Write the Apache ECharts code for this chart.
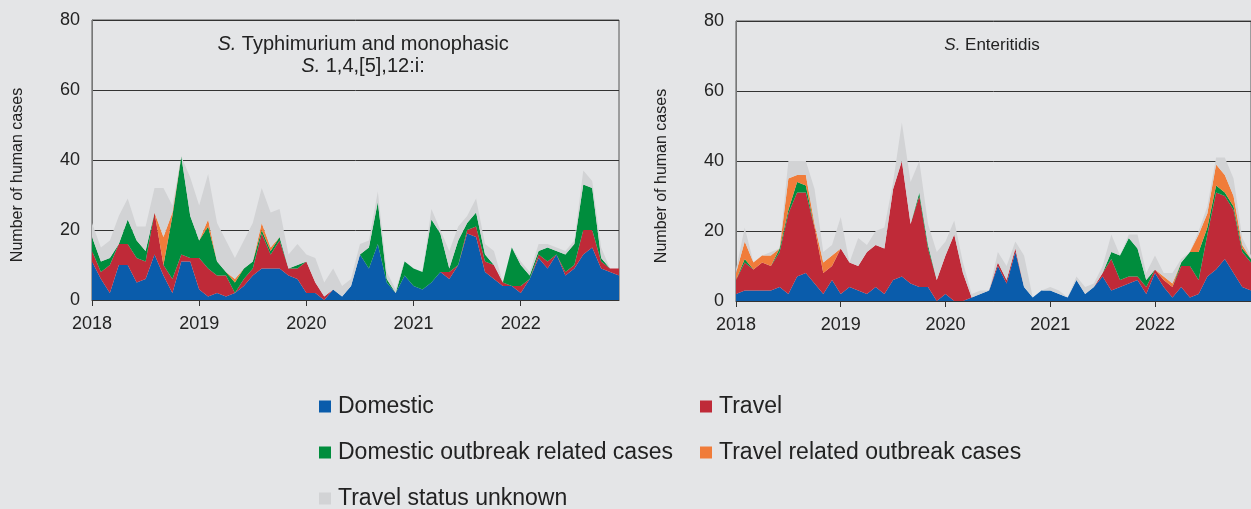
<!DOCTYPE html>
<html>
<head>
<meta charset="utf-8">
<title>Salmonella cases 2018-2022</title>
<script src="https://cdn.jsdelivr.net/npm/echarts@6/dist/echarts.min.js"></script>
<style>
  html, body { margin: 0; padding: 0; background: #e4e5e7; }
  #chart { width: 1251px; height: 509px; }
</style>
</head>
<body>
<div id="chart"></div>
<script>
// tick labels / categories
const years = ['2018', '2019', '2020', '2021', '2022']
const months = []
years.forEach(y => {
  for (let m = 1; m <= 12; m++) months.push(y + '-' + String(m).padStart(2, '0'))
})

// S. Typhimurium and monophasic S. 1,4,[5],12:i: (monthly cases)
const tyDomestic = [11, 6, 2, 10, 10, 5, 6, 13, 7, 2, 11, 11, 3, 1, 2, 1, 2, 4, 7, 9, 9, 9, 7, 6, 2, 2, 0, 3, 1, 4,
  13, 9, 16, 5, 2, 7, 4, 3, 5, 8, 6, 10, 19, 18, 8, 6, 4, 4, 2, 6, 12, 9, 13, 7, 9, 13, 15, 9, 8, 7]
const tyTravel = [3, 2, 8, 6, 6, 7, 5, 12, 3, 4, 2, 1, 9, 8, 5, 6, 0, 2, 2, 10, 4, 8, 2, 3, 9, 3, 1, 0, 0, 0,
  0, 0, 0, 0, 0, 0, 0, 0, 0, 0, 2, 0, 1, 3, 3, 4, 1, 0, 2, 0, 1, 2, 0, 1, 1, 7, 5, 2, 1, 2]
const tyDomOutbreak = [4, 3, 2, 0, 7, 5, 3, 0, 0, 18, 28, 12, 5, 12, 4, 1, 3, 3, 2, 1, 1, 1, 0, 1, 0, 0, 0, 0, 0, 0,
  0, 6, 12, 1, 0, 4, 5, 5, 18, 11, 1, 7, 2, 4, 2, 0, 0, 11, 6, 1, 1, 4, 1, 5, 6, 13, 12, 1, 0, 0]
const tyTravOutbreak = [0, 0, 0, 0, 0, 0, 0, 0, 8, 1, 0, 0, 0, 2, 0, 0, 1, 0, 0, 2, 1, 0, 0, 0, 0, 0, 0, 0, 0, 0,
  0, 0, 0, 0, 0, 0, 0, 0, 0, 0, 0, 0, 0, 0, 0, 0, 0, 0, 0, 0, 0, 0, 0, 0, 0, 0, 0, 0, 0, 0]
const tyUnknown = [4, 4, 5, 8, 6, 4, 7, 7, 14, 2, 0, 11, 10, 13, 11, 9, 6, 8, 11, 10, 10, 8, 4, 6, 2, 7, 4, 6, 3, 2,
  3, 2, 3, 2, 1, 0, 0, 0, 3, 1, 5, 4, 2, 4, 3, 4, 0, 0, 1, 1, 2, 1, 1, 1, 1, 4, 2, 3, 0, 0]

// S. Enteritidis (monthly cases)
const enDomestic = [2, 3, 3, 3, 3, 4, 2, 7, 8, 5, 2, 6, 2, 4, 3, 2, 4, 2, 6, 7, 5, 4, 4, 0, 2, 0, 0, 1, 2, 3,
  10, 5, 14, 4, 1, 3, 3, 2, 1, 6, 2, 4, 7, 3, 4, 5, 6, 2, 8, 4, 1, 4, 1, 2, 7, 9, 12, 8, 4, 3]
const enTravel = [4, 8, 6, 8, 7, 10, 23, 24, 23, 16, 6, 4, 13, 7, 7, 12, 12, 13, 26, 33, 17, 26, 11, 6, 11, 19, 8, 0, 0, 0,
  1, 1, 1, 0, 0, 0, 0, 0, 0, 0, 0, 0, 1, 9, 2, 2, 1, 2, 1, 2, 3, 6, 9, 4, 12, 22, 18, 18, 10, 8]
const enDomOutbreak = [0, 1, 0, 0, 0, 1, 1, 3, 2, 0, 0, 0, 0, 0, 0, 0, 0, 0, 0, 0, 0, 1, 1, 0, 0, 0, 0, 0, 0, 0,
  0, 0, 0, 0, 0, 0, 0, 0, 0, 0, 0, 0, 0, 2, 7, 11, 8, 2, 0, 0, 0, 1, 4, 8, 2, 2, 1, 1, 1, 1]
const enTravOutbreak = [2, 5, 2, 2, 3, 0, 9, 2, 3, 1, 3, 3, 0, 0, 0, 0, 0, 0, 0, 0, 0, 0, 0, 0, 0, 0, 0, 0, 0, 0,
  0, 0, 0, 0, 0, 0, 0, 0, 0, 0, 0, 0, 0, 0, 0, 0, 0, 0, 0, 1, 1, 0, 0, 5, 4, 6, 5, 3, 1, 0]
const enUnknown = [1, 4, 0, 0, 1, 0, 5, 4, 4, 10, 3, 3, 9, 0, 8, 2, 4, 6, 2, 11, 12, 9, 6, 8, 4, 4, 3, 1, 1, 0,
  3, 4, 2, 9, 0, 0, 1, 1, 0, 1, 2, 1, 2, 5, 0, 1, 4, 2, 4, 1, 3, 1, 0, 1, 2, 2, 5, 5, 2, 1]

const names = ['Domestic', 'Travel', 'Domestic outbreak related cases', 'Travel related outbreak cases', 'Travel status unknown']
const colors = ['#0a5cab', '#bf2a38', '#008d3d', '#f07c3a', '#d2d3d5']
const font = 'Liberation Sans'

const yearTick = i => i % 12 === 0

function xAxis (gridIndex) {
  return {
    type: 'category',
    gridIndex,
    data: months,
    boundaryGap: false,
    axisLine: { lineStyle: { color: '#333', width: 1 } },
    axisTick: { interval: yearTick, length: 6, lineStyle: { color: '#333' } },
    axisLabel: {
      interval: yearTick,
      formatter: v => v.slice(0, 4),
      fontFamily: font,
      fontSize: 18,
      color: '#222',
      margin: 15
    },
    splitLine: { show: false }
  }
}

function yAxis (gridIndex) {
  return {
    type: 'value',
    gridIndex,
    min: 0,
    max: 80,
    interval: 20,
    name: 'Number of human cases',
    nameLocation: 'middle',
    nameGap: 66,
    nameTextStyle: { fontFamily: font, fontSize: 16, color: '#222', padding: [0, 30, 0, 0] },
    axisLine: { show: true, lineStyle: { color: '#777' } },
    axisTick: { show: false },
    axisLabel: { fontFamily: font, fontSize: 18, color: '#222', margin: 12 },
    splitLine: { lineStyle: { color: '#333', width: 1 } }
  }
}

function areaSeries (idx, stack, values) {
  return values.map((data, k) => ({
    name: names[k],
    type: 'line',
    xAxisIndex: idx,
    yAxisIndex: idx,
    stack,
    data,
    symbol: 'none',
    color: colors[k],
    lineStyle: { width: 0 },
    areaStyle: { color: colors[k], opacity: 1 },
    emphasis: { disabled: true }
  }))
}

// one legend per entry, laid out in two columns
function legendItem (name, left, top) {
  return {
    data: [name],
    left,
    top,
    icon: 'rect',
    itemWidth: 12,
    itemHeight: 12,
    itemStyle: { borderWidth: 0 },
    textStyle: { fontFamily: font, fontSize: 23, color: '#222', padding: [0, 0, 0, 2] }
  }
}

const option = {
  backgroundColor: '#e4e5e7',
  animation: false,
  title: [
    {
      text: '{i|S.} Typhimurium and monophasic\n{i|S.} 1,4,[5],12:i:',
      left: 358,
      top: 28,
      textAlign: 'center',
      textStyle: {
        fontFamily: font, fontSize: 20, fontWeight: 'normal', color: '#222', lineHeight: 22,
        rich: { i: { fontFamily: font, fontSize: 20, fontStyle: 'italic', color: '#222', lineHeight: 22 } }
      }
    },
    {
      text: '{i|S.} Enteritidis',
      left: 987,
      top: 30,
      textAlign: 'center',
      textStyle: {
        fontFamily: font, fontSize: 17, fontWeight: 'normal', color: '#222', lineHeight: 20,
        rich: { i: { fontFamily: font, fontSize: 17, fontStyle: 'italic', color: '#222', lineHeight: 20 } }
      }
    }
  ],
  legend: [
    legendItem('Domestic', 314, 390),
    legendItem('Travel', 695, 390),
    legendItem('Domestic outbreak related cases', 314, 436),
    legendItem('Travel related outbreak cases', 695, 436),
    legendItem('Travel status unknown', 314, 482)
  ],
  grid: [
    { left: 92, top: 20, width: 527, height: 280, show: true, borderColor: '#555', borderWidth: 1, backgroundColor: 'transparent' },
    { left: 736, top: 21, width: 520, height: 280, show: true, borderColor: '#555', borderWidth: 1, backgroundColor: 'transparent' }
  ],
  xAxis: [xAxis(0), xAxis(1)],
  yAxis: [yAxis(0), yAxis(1)],
  series: [
    ...areaSeries(0, 'ty', [tyDomestic, tyTravel, tyDomOutbreak, tyTravOutbreak, tyUnknown]),
    ...areaSeries(1, 'en', [enDomestic, enTravel, enDomOutbreak, enTravOutbreak, enUnknown])
  ]
}

const myChart = echarts.init(document.getElementById('chart'))
myChart.setOption(option)
</script>
</body>
</html>
